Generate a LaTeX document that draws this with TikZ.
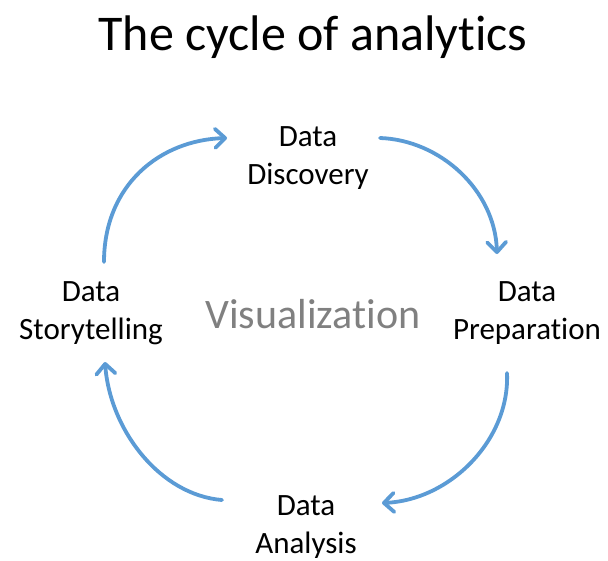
\documentclass[tikz,border=0pt]{standalone}
\usepackage{fontspec}
\setmainfont[Ligatures={NoCommon,NoRare,NoContextual}]{Carlito}
\usetikzlibrary{arrows.meta}
\definecolor{arrowblue}{HTML}{5B9BD5}
\definecolor{vizgray}{HTML}{808080}
\begin{document}
\begin{tikzpicture}[x=1pt,y=-1pt,
  lbl/.style={align=center,font=\fontsize{31}{38}\selectfont,inner sep=0pt},
  cyc/.style={draw=arrowblue,line width=3.8pt,line cap=round,-{Straight Barb[length=10pt,width=19pt,line width=3.8pt,round]}}]
\useasboundingbox (0,0) rectangle (608,560);
\node[font=\fontsize{50}{56}\selectfont,inner sep=0pt] (title) at (313,37) {The cycle of analytics};
\node[lbl] (disc) at (308,158) {Data\\Discovery};
\node[lbl] (prep) at (527,313) {Data\\Preparation};
\node[lbl] (anal) at (306,527) {Data\\Analysis};
\node[lbl] (story) at (91,313) {Data\\Storytelling};
\node[font=\fontsize{42}{46}\selectfont,text=vizgray,inner sep=0pt] (viz) at (313,314) {Visualization};
\coordinate (a1s) at (104,262);
\coordinate (a1e) at (227,138);
\coordinate (a2s) at (380,138);
\coordinate (a2e) at (497,254);
\coordinate (a3s) at (507,373);
\coordinate (a3e) at (382,503);
\coordinate (a4s) at (222,500);
\coordinate (a4e) at (105,362);
\draw[cyc] (a1s) .. controls (104,185) and (160,140) .. (a1e);
\draw[cyc] (a2s) .. controls (440,140) and (495,190) .. (a2e);
\draw[cyc] (a3s) .. controls (510,440) and (450,500) .. (a3e);
\draw[cyc] (a4s) .. controls (160,495) and (110,430) .. (a4e);
\end{tikzpicture}
\end{document}
